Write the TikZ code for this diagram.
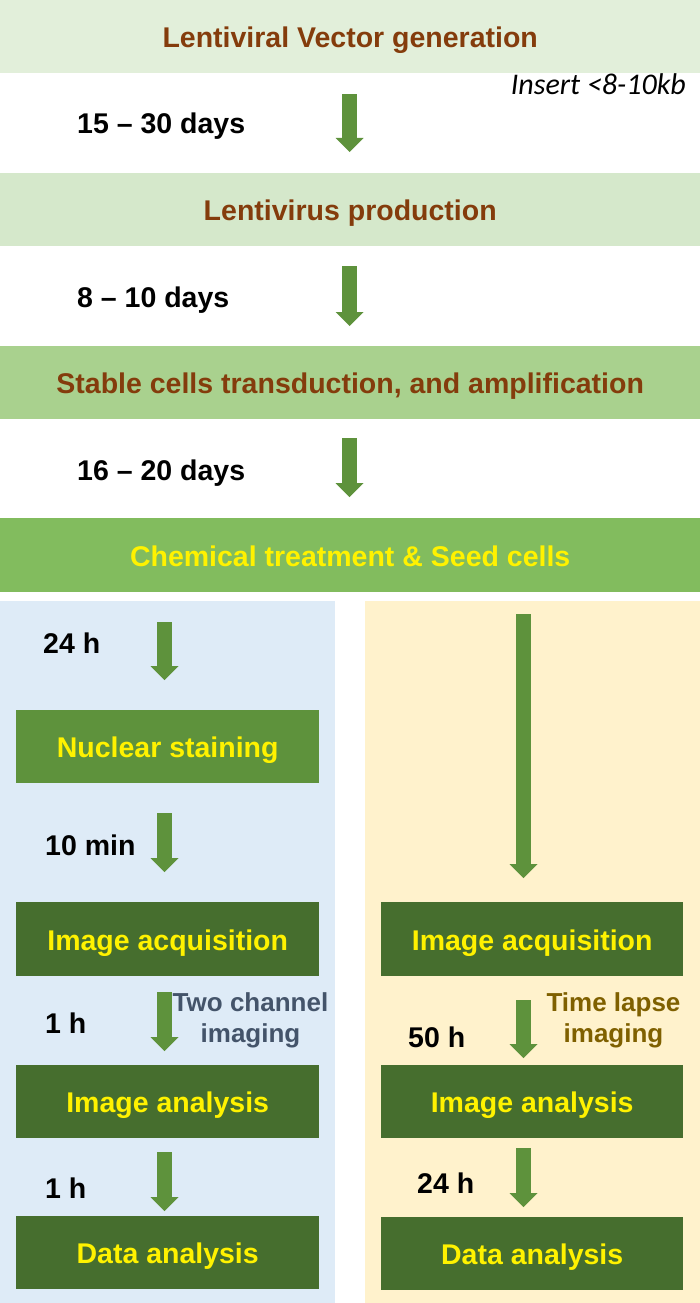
\documentclass[tikz,border=0pt]{standalone}
\usepackage{fontspec}
\setmainfont{Liberation Sans}
\newfontfamily\noteFont{Carlito}
\usetikzlibrary{arrows.meta}
\definecolor{VectorClr}{RGB}{226,239,218}
\definecolor{VirusClr}{RGB}{213,232,203}
\definecolor{StableClr}{RGB}{169,209,142}
\definecolor{SeedClr}{RGB}{130,188,94}
\definecolor{StainClr}{RGB}{94,146,60}
\definecolor{ImgClr}{RGB}{70,110,46}
\definecolor{ArrowClr}{RGB}{94,146,60}
\definecolor{HeadClr}{RGB}{132,60,12}
\definecolor{FixedClr}{RGB}{222,235,247}
\definecolor{LiveClr}{RGB}{255,242,204}
\definecolor{TwoClr}{RGB}{68,84,106}
\definecolor{LapseClr}{RGB}{127,96,0}

\begin{document}
\begin{tikzpicture}[x=1pt,y=-1pt,
  wideBox/.style={anchor=north west,inner sep=0pt,minimum width=700pt,minimum height=73pt,
    text height=22pt,text depth=0pt,font=\bfseries\fontsize{28.5}{32}\selectfont},
  stepBox/.style={anchor=north west,inner sep=0pt,minimum width=303pt,minimum height=73pt,
    text height=22pt,text depth=0pt,text=yellow,font=\bfseries\fontsize{28.5}{32}\selectfont},
  timeLbl/.style={anchor=west,inner sep=0pt,text height=20pt,text depth=0pt,
    font=\bfseries\fontsize{28.5}{32}\selectfont},
  sideLbl/.style={align=center,inner sep=0pt,font=\bfseries\fontsize{26}{31}\selectfont},
  flowArrow/.style={draw=ArrowClr,line width=15pt,
    -{Triangle[width=28pt 0 0,length=14pt 0 0,line width=0pt,fill=ArrowClr]}}]
\useasboundingbox (0,0) rectangle (700,1303);

% panels
\fill[FixedClr] (0,601) rectangle (335,1303);
\fill[LiveClr] (365,601) rectangle (700,1303);

% arrow columns
\coordinate (midCol) at (349.5,0);
\coordinate (leftCol) at (164.5,0);
\coordinate (rightCol) at (523.5,0);

% main steps
\node[wideBox,fill=VectorClr,text=HeadClr] (vector) at (0,0) {Lentiviral Vector generation};
\node[wideBox,fill=VirusClr,text=HeadClr] (virus) at (0,173) {Lentivirus production};
\node[wideBox,fill=StableClr,text=HeadClr] (stable) at (0,346) {Stable cells transduction, and amplification};
\node[wideBox,fill=SeedClr,text=yellow,minimum height=74pt] (seed) at (0,518) {Chemical treatment \& Seed cells};

\node[anchor=east,inner sep=0pt,font=\noteFont\itshape\fontsize{30}{34}\selectfont] (insert) at (686,84) {Insert <8-10kb};

% fixed cells
\node[stepBox,fill=StainClr] (nucl) at (16,710) {Nuclear staining};
\node[stepBox,fill=ImgClr,minimum height=74pt] (lAcq) at (16,902) {Image acquisition};
\node[stepBox,fill=ImgClr] (lAna) at (16,1065) {Image analysis};
\node[stepBox,fill=ImgClr] (lData) at (16,1216) {Data analysis};

% live cells
\node[stepBox,fill=ImgClr,minimum width=302pt,minimum height=74pt] (rAcq) at (381,902) {Image acquisition};
\node[stepBox,fill=ImgClr,minimum width=302pt] (rAna) at (381,1065) {Image analysis};
\node[stepBox,fill=ImgClr,minimum width=302pt] (rData) at (381,1217) {Data analysis};

% times
\node[timeLbl] (t1) at (77,123) {15 -- 30 days};
\node[timeLbl] (t2) at (77,297) {8 -- 10 days};
\node[timeLbl] (t3) at (77,470) {16 -- 20 days};
\node[timeLbl] (t4) at (43,643.5) {24 h};
\node[timeLbl] (t5) at (45,845) {10 min};
\node[timeLbl] (t6) at (45,1023) {1 h};
\node[timeLbl] (t7) at (45,1188) {1 h};
\node[timeLbl] (t8) at (408,1037) {50 h};
\node[timeLbl] (t9) at (417,1183) {24 h};

\node[sideLbl,text=TwoClr] (twoCh) at (250.5,1020) {Two channel\\imaging};
\node[sideLbl,text=LapseClr] (lapse) at (613.5,1020) {Time lapse\\imaging};

% arrows
\draw[flowArrow,shorten <=21pt,shorten >=21pt] (vector.south -| midCol) -- (virus.north -| midCol);
\draw[flowArrow,shorten <=20pt,shorten >=20pt] (virus.south -| midCol) -- (stable.north -| midCol);
\draw[flowArrow,shorten <=19pt,shorten >=21pt] (stable.south -| midCol) -- (seed.north -| midCol);
\draw[flowArrow,shorten <=30pt,shorten >=30pt] (seed.south -| leftCol) -- (nucl.north -| leftCol);
\draw[flowArrow,shorten <=30pt,shorten >=30pt] (nucl.south -| leftCol) -- (lAcq.north -| leftCol);
\draw[flowArrow,shorten <=16pt,shorten >=14pt] (lAcq.south -| leftCol) -- (lAna.north -| leftCol);
\draw[flowArrow,shorten <=14pt,shorten >=5pt] (lAna.south -| leftCol) -- (lData.north -| leftCol);
\draw[flowArrow,shorten <=22pt,shorten >=24pt] (seed.south -| rightCol) -- (rAcq.north -| rightCol);
\draw[flowArrow,shorten <=24pt,shorten >=7pt] (rAcq.south -| rightCol) -- (rAna.north -| rightCol);
\draw[flowArrow,shorten <=10pt,shorten >=10pt] (rAna.south -| rightCol) -- (rData.north -| rightCol);

\end{tikzpicture}
\end{document}
